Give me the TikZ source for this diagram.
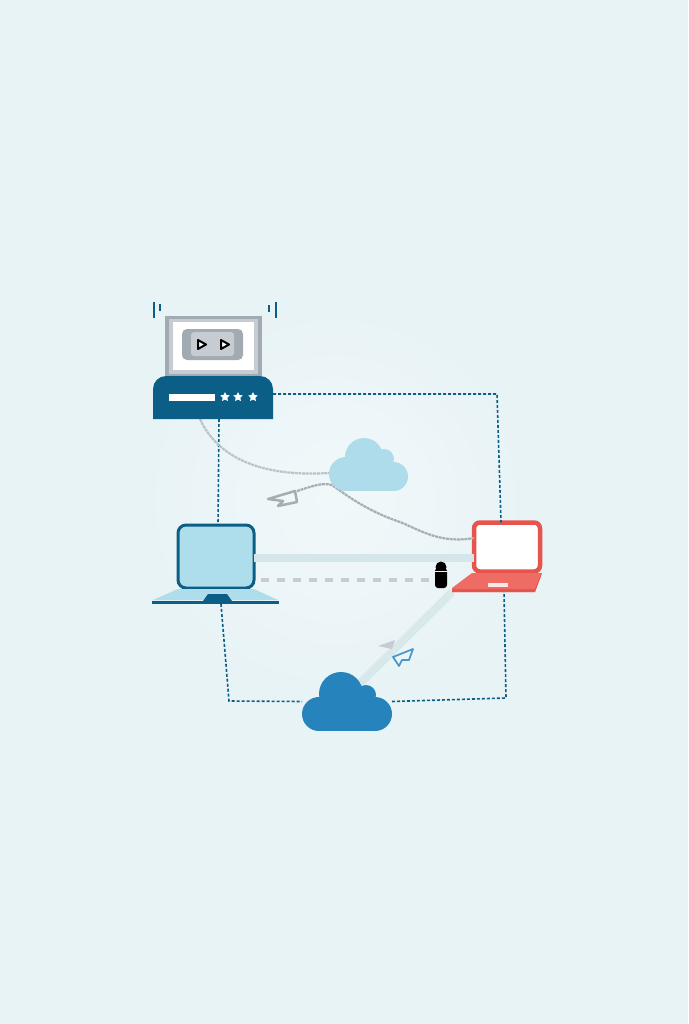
\documentclass[tikz,border=0pt]{standalone}
\usepackage{tikz}
\usetikzlibrary{shapes.geometric, arrows}
\definecolor{bgblue}{HTML}{E8F3F6}
\definecolor{glowblue}{HTML}{F1F8FA}
\definecolor{routerblue}{HTML}{0B5F86}
\definecolor{screenblue}{HTML}{AEDDEC}
\definecolor{cloudlight}{HTML}{AEDCEB}
\definecolor{clouddark}{HTML}{2683BC}
\definecolor{framegrey}{HTML}{A2AAB2}
\definecolor{padgrey}{HTML}{C6CCD1}
\definecolor{trailgrey}{HTML}{A6AEB2}
\definecolor{laptopred}{HTML}{E6554D}
\definecolor{deckred}{HTML}{EE6C63}
\definecolor{palelink}{HTML}{D5E6EA}
\tikzstyle{box} = [rectangle, inner sep=0pt, outer sep=0pt]
\tikzstyle{netline} = [routerblue, line width=1.6pt, dash pattern=on 3pt off 2pt]
\tikzstyle{trail} = [line width=2.2pt, dash pattern=on 3pt off 0.7pt]
\tikzstyle{led} = [star, star points=5, star point ratio=2, fill=white, minimum size=10pt, inner sep=0pt]
\tikzstyle{play} = [draw=black, fill=white, line width=2pt, line join=round]
\tikzstyle{antenna} = [routerblue, line width=2.6pt]

\begin{document}
\begin{tikzpicture}[x=1pt, y=-1pt]

      % Background
      \fill[bgblue] (0,0) rectangle (688,1024);
      \useasboundingbox (0,0) rectangle (688,1024);
      \shade[inner color=glowblue, outer color=bgblue] (335,500) circle (200pt);

      % Nodes
      \node[box, minimum width=120pt, minimum height=43pt] (routerbase) at (213,397.5) {};
      \node[box, fill=framegrey, minimum width=97pt, minimum height=60pt] (routerframe) at (213.5,346) {};
      \node[box, minimum width=76pt, minimum height=63pt, draw=routerblue, line width=3pt, fill=screenblue, rounded corners=8pt] (bluescreen) at (216,556.5) {};
      \node[box, minimum width=125pt, minimum height=16pt] (bluebase) at (215.5,596) {};
      \node[box, minimum width=66pt, minimum height=49pt, draw=laptopred, line width=4.5pt, fill=white, rounded corners=6pt] (redscreen) at (507,547) {};
      \node[box, minimum width=90pt, minimum height=19pt] (redbase) at (497,582.5) {};
      \node[box, minimum width=79pt, minimum height=53pt] (lightcloud) at (368.5,464.5) {};
      \node[box, minimum width=90pt, minimum height=59pt] (darkcloud) at (347,701.5) {};
      \coordinate (cornerA) at (497,394);
      \coordinate (cornerB) at (229,701);
      \coordinate (cornerC) at (506,698);

      % Pale links
      \draw[palelink, line width=8pt] (bluescreen.east |- 0,558) -- (redscreen.west |- 0,558);
      \draw[palelink, line width=8pt, opacity=0.85] ([xshift=13pt,yshift=18pt]darkcloud.center) -- ([xshift=-45pt]redbase.south);
      \draw[padgrey, line width=3.5pt, dash pattern=on 8pt off 8pt] ([xshift=7pt]bluescreen.east |- 0,580) -- (redbase.west |- 0,580);

      %Edges
      \draw[netline] (routerbase.east |- cornerA) -- (cornerA) -- ([xshift=-6pt]redscreen.north);
      \draw[netline] ([xshift=6pt]routerbase.south) -- ([xshift=2pt]bluescreen.north);
      \draw[netline] ([xshift=5.5pt]bluebase.south) -- (cornerB) -- (darkcloud.west);
      \draw[netline] (darkcloud.east) -- (cornerC) -- ([xshift=7pt]redbase.south);
      \draw[trail, trailgrey!70!bgblue] ([xshift=-13pt]routerbase.south) .. controls (214,450) and (250,478) .. (lightcloud.west |- 0,473);
      \draw[trail, trailgrey] (297,491) .. controls (310,487) and (322,482) .. (332,485) .. controls (350,498) and (370,512) .. (400,522) .. controls (420,530) and (440,544) .. (redscreen.west |- 0,538);

      % Router
      \fill[routerblue] (routerbase.south west) [rounded corners=13pt] -- (routerbase.north west) -- (routerbase.north east) [sharp corners] -- (routerbase.south east) -- cycle;
      \fill[padgrey] (169,319) rectangle (258,374);
      \fill[white] (173,322) rectangle (254,370);
      \fill[framegrey] (182,329) [rounded corners=5pt] rectangle (243,360);
      \fill[padgrey] (191,332) [rounded corners=3pt] rectangle (234,356);
      \draw[play] (198,340) -- (206,344.5) -- (198,349) -- cycle;
      \draw[play] (221,340) -- (229,344.5) -- (221,349) -- cycle;
      \fill[white] (169,394) rectangle (215,401);
      \node[led] (ledA) at (225,397) {};
      \node[led] (ledB) at (238,397) {};
      \node[led] (ledC) at (253,397) {};
      \draw[antenna] (154,302) -- (154,318);
      \draw[antenna] (160,304) -- (160,311);
      \draw[antenna] (276,302) -- (276,318);
      \draw[antenna] (269,305) -- (269,312);

      % Blue laptop
      \fill[screenblue] (153,600) -- (178,589) -- (254,589) -- (278,600) -- cycle;
      \fill[routerblue] (152,601) -- (279,601) -- (279,604) -- (152,604) -- cycle;
      \fill[routerblue] (203,601) -- (208,594) -- (227,594) -- (232,601) -- cycle;

      % Red laptop
      \fill[deckred] (472,573) -- (542,573) -- (535,592) -- (452,592) -- (452,588) -- cycle;
      \fill[laptopred] (452,589) -- (535,589) -- (541,574) -- (542,573) -- (535,592) -- (452,592) -- cycle;
      \fill[white, opacity=0.85] (488,583) rectangle (508,587);

      % Pen
      \node[box, fill=black, minimum width=12pt, minimum height=20pt, rounded corners=3pt] (pen) at (441,578) {};
      \fill[black] (441,567) circle (5.5pt);
      \fill[bgblue] (434.5,570.5) rectangle (447.5,571.5);

      % Clouds
      \fill[cloudlight] (364,457) circle (19pt) (384,459) circle (10pt) (346,474) circle (17pt) (393.5,476.5) circle (14.5pt);
      \fill[cloudlight] (346,465) rectangle (393.5,491);
      \fill[clouddark] (341,694) circle (22pt) (366,695) circle (10pt) (319,714) circle (17pt) (375,714) circle (17pt);
      \fill[clouddark] (319,697) rectangle (375,731);

      % Envelopes
      \draw[trailgrey, line width=2.5pt, line join=round, fill=glowblue] (268,499) -- (295,491) -- (297,502) -- (278,506) -- (283,501) -- cycle;
      \fill[padgrey] (378,646) -- (395,640) -- (392,649) -- cycle;
      \draw[clouddark!85!white, line width=1.7pt, line join=round] (413,649) -- (393,657) -- (399,666) -- (402,660) -- (409,660) -- cycle;

\end{tikzpicture}
\end{document}
